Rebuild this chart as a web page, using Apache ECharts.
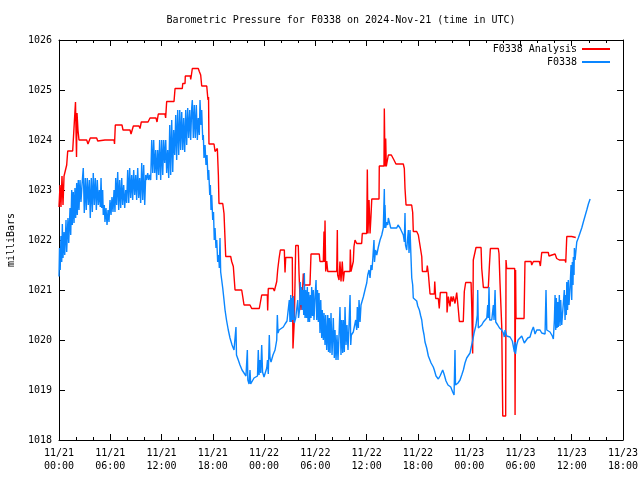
<!DOCTYPE html>
<html>
<head>
<meta charset="utf-8">
<script src="https://cdn.jsdelivr.net/npm/echarts@6/dist/echarts.min.js"></script>
<style>html,body{margin:0;padding:0;background:#fff}#c{width:640px;height:480px}</style>
</head>
<body>
<div id="c"></div>
<script>
const titleText = 'Barometric Pressure for F0338 on 2024-Nov-21 (time in UTC)';
const yName = 'milliBars';
const seriesNames = ['F0338 Analysis', 'F0338'];
const tickLabels = ['11/21\n00:00','11/21\n06:00','11/21\n12:00','11/21\n18:00','11/22\n00:00','11/22\n06:00','11/22\n12:00','11/22\n18:00','11/23\n00:00','11/23\n06:00','11/23\n12:00','11/23\n18:00'];

// hours since 2024-11-21 00:00 UTC, pressure in mbar
const analysisData = [[0,1022.66],[0.12,1023.1],[0.23,1022.66],[0.35,1023.28],[0.47,1022.7],[0.59,1023.28],[0.70,1023.3],[0.90,1023.5],[1.02,1023.78],[1.60,1023.78],[1.64,1023.74],[1.81,1023.74],[1.93,1024.76],[2.05,1023.66],[2.11,1024.54],[2.22,1024.2],[2.34,1024.0],[3.24,1024.0],[3.39,1023.92],[3.55,1023.92],[3.66,1024.04],[4.41,1024.04],[4.53,1023.98],[4.65,1024.0],[5.38,1024.0],[5.50,1023.97],[5.62,1024.0],[6.44,1024.0],[6.50,1023.92],[6.59,1024.3],[7.37,1024.3],[7.49,1024.2],[8.31,1024.2],[8.43,1024.12],[8.70,1024.28],[9.36,1024.28],[9.48,1024.23],[9.63,1024.36],[10.42,1024.36],[10.50,1024.32],[10.65,1024.44],[11.35,1024.44],[11.47,1024.36],[11.62,1024.52],[12.40,1024.52],[12.48,1024.44],[12.60,1024.77],[13.46,1024.77],[13.58,1025.03],[14.43,1025.03],[14.48,1025.13],[14.75,1025.13],[14.78,1025.28],[15.37,1025.28],[15.41,1025.21],[15.48,1025.28],[15.60,1025.43],[16.30,1025.43],[16.42,1025.37],[16.58,1025.3],[16.70,1025.08],[17.29,1025.08],[17.36,1024.94],[17.40,1024.86],[17.44,1024.8],[17.50,1024.86],[17.55,1023.92],[18.14,1023.92],[18.26,1023.77],[18.53,1023.83],[18.65,1023.3],[18.72,1022.73],[19.16,1022.73],[19.31,1022.53],[19.43,1022.53],[19.51,1021.67],[20.09,1021.67],[20.21,1021.57],[20.40,1021.47],[20.60,1021.0],[21.38,1021.0],[21.50,1020.87],[21.65,1020.7],[22.35,1020.7],[22.55,1020.63],[23.44,1020.63],[23.52,1020.6],[23.72,1020.9],[24.38,1020.9],[24.42,1020.59],[24.49,1021.03],[25.08,1021.03],[25.20,1020.98],[25.40,1020.96],[25.48,1021.17],[25.59,1021.4],[25.75,1021.63],[25.90,1021.8],[26.37,1021.8],[26.40,1021.6],[26.45,1021.35],[26.53,1021.65],[27.30,1021.65],[27.38,1019.83],[27.54,1020.4],[27.70,1021.89],[28.0,1021.89],[28.09,1021.33],[28.20,1020.87],[28.32,1020.6],[28.47,1020.87],[28.59,1021.33],[28.71,1021.1],[29.37,1021.1],[29.49,1021.72],[30.46,1021.72],[30.54,1021.57],[30.93,1021.57],[31.01,1022.17],[31.07,1021.56],[31.13,1022.39],[31.21,1021.37],[31.33,1021.58],[31.45,1021.37],[32.50,1021.37],[32.57,1022.2],[32.61,1021.3],[32.77,1021.2],[32.88,1021.57],[33.0,1021.17],[33.15,1021.57],[33.27,1021.17],[33.39,1021.37],[34.05,1021.37],[34.09,1021.81],[34.17,1021.37],[34.35,1021.37],[34.44,1021.57],[34.52,1021.87],[34.64,1022.0],[34.84,1021.93],[35.42,1021.93],[35.49,1022.13],[36.01,1022.13],[36.08,1023.41],[36.16,1022.13],[36.28,1022.8],[36.40,1022.13],[36.51,1022.48],[36.60,1022.82],[37.45,1022.82],[37.48,1023.48],[38.03,1023.48],[38.07,1024.63],[38.15,1023.47],[38.23,1024.03],[38.30,1023.47],[38.47,1023.47],[38.54,1023.7],[38.89,1023.7],[38.93,1023.73],[39.05,1023.67],[39.20,1023.6],[39.43,1023.52],[40.29,1023.52],[40.41,1023.43],[40.49,1023.03],[40.61,1022.7],[41.27,1022.7],[41.39,1022.55],[41.46,1022.17],[41.86,1022.17],[42.05,1022.1],[42.45,1021.67],[42.52,1021.37],[43.03,1021.37],[43.10,1021.49],[43.22,1021.33],[43.42,1020.92],[43.92,1020.92],[43.97,1021.17],[44.08,1020.83],[44.39,1020.83],[44.50,1020.63],[44.62,1020.95],[45.37,1020.95],[45.41,1020.55],[45.56,1020.87],[45.76,1020.67],[45.87,1020.87],[46.03,1020.77],[46.14,1020.87],[46.34,1020.73],[46.54,1020.95],[46.73,1020.61],[46.85,1020.37],[47.31,1020.37],[47.43,1020.97],[47.59,1021.15],[48.22,1021.15],[48.30,1020.67],[48.41,1019.73],[48.48,1021.6],[48.62,1021.56],[48.80,1021.85],[49.39,1021.85],[49.47,1021.43],[49.66,1021.05],[50.24,1021.05],[50.36,1021.47],[50.48,1021.83],[51.41,1021.83],[51.49,1021.73],[51.61,1021.13],[51.81,1020.27],[51.93,1018.48],[52.27,1018.48],[52.31,1021.6],[52.39,1021.43],[53.33,1021.43],[53.37,1018.5],[53.43,1021.4],[53.48,1020.43],[54.42,1020.43],[54.53,1021.57],[55.24,1021.57],[55.32,1021.5],[55.51,1021.57],[56.21,1021.57],[56.33,1021.48],[56.49,1021.75],[57.26,1021.75],[57.34,1021.68],[57.46,1021.72],[58.05,1021.72],[58.24,1021.63],[58.55,1021.6],[59.22,1021.6],[59.30,1021.55],[59.42,1022.07],[60.0,1022.07],[60.07,1022.05],[60.47,1022.05]];

const stationData = [[0,1021.27],[0.06,1021.84],[0.14,1021.4],[0.23,1022.08],[0.32,1021.56],[0.39,1022.32],[0.47,1021.64],[0.59,1022.16],[0.67,1021.7],[0.82,1022.4],[0.90,1021.76],[1.05,1022.44],[1.14,1021.94],[1.29,1022.64],[1.37,1022.1],[1.49,1023.0],[1.56,1022.3],[1.67,1022.96],[1.76,1022.34],[1.87,1023.04],[1.95,1022.44],[2.07,1023.14],[2.14,1022.5],[2.26,1023.2],[2.34,1022.6],[2.46,1023.2],[2.57,1022.76],[2.69,1023.1],[2.84,1023.44],[2.96,1022.54],[3.08,1023.24],[3.19,1022.6],[3.31,1023.24],[3.43,1022.7],[3.55,1023.2],[3.66,1022.44],[3.78,1023.24],[3.90,1022.56],[4.01,1023.34],[4.13,1022.7],[4.25,1023.24],[4.37,1022.6],[4.48,1023.2],[4.60,1022.7],[4.72,1023.0],[4.83,1022.66],[4.92,1023.24],[5.00,1022.64],[5.11,1023.0],[5.18,1022.5],[5.30,1022.7],[5.38,1022.36],[5.50,1022.64],[5.62,1022.3],[5.74,1022.6],[5.85,1022.36],[5.97,1022.8],[6.09,1022.5],[6.20,1022.86],[6.32,1022.56],[6.44,1023.0],[6.55,1022.56],[6.64,1023.24],[6.75,1022.7],[6.87,1023.36],[6.99,1022.6],[7.10,1023.2],[7.22,1022.64],[7.34,1023.24],[7.45,1022.7],[7.57,1023.1],[7.69,1022.64],[7.81,1023.0],[7.92,1022.74],[8.04,1023.4],[8.16,1022.74],[8.27,1023.44],[8.39,1022.84],[8.51,1023.3],[8.62,1022.8],[8.74,1023.4],[8.86,1022.9],[8.98,1023.3],[9.09,1022.8],[9.21,1023.44],[9.33,1022.84],[9.44,1023.24],[9.56,1022.74],[9.68,1023.54],[9.80,1022.8],[9.91,1023.5],[10.03,1022.7],[10.15,1023.3],[10.26,1023.2],[10.38,1023.34],[10.50,1023.2],[10.61,1023.3],[10.73,1023.2],[10.85,1024.0],[10.97,1023.34],[11.08,1024.0],[11.20,1023.34],[11.32,1023.8],[11.43,1023.2],[11.55,1023.8],[11.67,1023.3],[11.78,1024.0],[11.90,1023.2],[12.02,1024.0],[12.14,1023.3],[12.25,1024.0],[12.37,1023.54],[12.49,1024.0],[12.60,1023.34],[12.72,1023.8],[12.84,1023.24],[12.96,1024.3],[13.07,1023.3],[13.19,1024.4],[13.31,1023.36],[13.42,1024.2],[13.54,1023.7],[13.66,1024.5],[13.77,1023.6],[13.89,1024.6],[14.01,1023.7],[14.13,1024.6],[14.24,1023.8],[14.36,1024.56],[14.48,1023.8],[14.59,1024.44],[14.71,1023.76],[14.83,1024.6],[14.94,1023.9],[15.06,1024.64],[15.18,1024.04],[15.30,1024.6],[15.41,1024.0],[15.53,1024.64],[15.60,1024.8],[15.72,1024.04],[15.83,1024.7],[15.95,1024.04],[16.07,1024.7],[16.19,1024.0],[16.30,1024.44],[16.42,1024.1],[16.50,1024.8],[16.62,1024.3],[16.70,1024.6],[16.82,1024.0],[16.89,1024.1],[16.97,1023.64],[17.09,1023.9],[17.20,1023.5],[17.32,1023.7],[17.44,1023.2],[17.52,1023.4],[17.64,1022.9],[17.71,1023.1],[17.79,1022.6],[17.87,1022.9],[17.99,1022.4],[18.08,1022.56],[18.17,1022.0],[18.26,1022.24],[18.37,1021.84],[18.46,1022.0],[18.57,1021.56],[18.69,1021.7],[18.76,1021.44],[18.84,1022.04],[18.92,1021.36],[19.04,1021.2],[19.16,1021.04],[19.31,1020.8],[19.43,1020.6],[19.60,1020.4],[19.81,1020.2],[20.01,1020.04],[20.25,1019.9],[20.48,1019.8],[20.71,1020.26],[20.77,1019.7],[20.98,1019.6],[21.18,1019.5],[21.42,1019.4],[21.65,1019.36],[21.88,1019.28],[22.04,1019.8],[22.10,1019.2],[22.24,1019.12],[22.35,1019.4],[22.43,1019.12],[22.65,1019.16],[22.82,1019.24],[23.05,1019.26],[23.23,1019.28],[23.32,1019.8],[23.41,1019.3],[23.52,1019.6],[23.61,1019.34],[23.72,1019.9],[23.82,1019.36],[23.99,1019.26],[24.14,1019.3],[24.31,1019.44],[24.40,1019.6],[24.49,1019.32],[24.61,1020.1],[24.69,1019.64],[24.81,1019.56],[24.96,1019.52],[25.04,1019.7],[25.16,1019.66],[25.28,1019.8],[25.48,1020.0],[25.55,1020.5],[25.63,1020.14],[25.75,1020.2],[25.98,1020.24],[26.25,1020.26],[26.45,1020.32],[26.68,1020.38],[26.86,1020.34],[26.95,1020.8],[27.03,1020.36],[27.12,1020.9],[27.19,1020.36],[27.27,1020.84],[27.35,1020.4],[27.42,1020.88],[27.54,1020.34],[27.70,1020.44],[27.82,1020.4],[27.94,1020.8],[28.03,1020.44],[28.15,1020.6],[28.24,1021.16],[28.32,1020.7],[28.40,1021.06],[28.47,1020.6],[28.55,1021.0],[28.64,1020.5],[28.71,1021.34],[28.79,1020.44],[28.87,1021.0],[28.97,1020.44],[29.06,1021.06],[29.14,1020.36],[29.22,1020.96],[29.32,1020.36],[29.41,1020.9],[29.49,1020.44],[29.57,1021.06],[29.67,1020.48],[29.76,1021.0],[29.84,1020.4],[29.96,1020.86],[30.08,1021.2],[30.16,1020.4],[30.25,1021.0],[30.35,1020.36],[30.43,1020.94],[30.54,1020.14],[30.63,1020.8],[30.74,1020.04],[30.81,1020.6],[30.93,1020.0],[31.01,1020.54],[31.13,1019.9],[31.21,1020.5],[31.33,1019.8],[31.45,1020.5],[31.54,1019.76],[31.63,1020.44],[31.72,1019.74],[31.83,1020.54],[31.95,1019.7],[32.10,1020.44],[32.22,1019.64],[32.30,1020.2],[32.42,1019.6],[32.53,1020.1],[32.65,1019.6],[32.77,1020.1],[32.88,1020.66],[33.00,1019.7],[33.08,1020.4],[33.20,1019.74],[33.27,1020.4],[33.39,1019.76],[33.47,1020.66],[33.59,1019.9],[33.70,1020.3],[33.82,1019.8],[33.94,1020.3],[34.06,1020.9],[34.14,1019.9],[34.21,1020.1],[34.33,1020.06],[34.44,1020.16],[34.64,1020.14],[34.72,1020.4],[34.84,1020.2],[34.91,1020.66],[35.03,1020.24],[35.11,1020.8],[35.23,1020.36],[35.34,1020.7],[35.50,1020.7],[35.61,1020.86],[35.73,1020.9],[35.89,1021.06],[36.01,1021.14],[36.13,1021.3],[36.28,1021.4],[36.40,1021.24],[36.51,1021.5],[36.63,1021.4],[36.75,1021.7],[36.86,1022.0],[36.92,1021.56],[37.04,1021.8],[37.18,1021.7],[37.37,1021.86],[37.57,1022.0],[37.77,1022.1],[37.95,1022.24],[38.07,1023.02],[38.12,1022.24],[38.15,1022.7],[38.23,1022.24],[38.35,1022.36],[38.47,1022.3],[38.54,1022.44],[38.65,1022.4],[38.82,1022.24],[39.21,1022.24],[39.52,1022.24],[39.67,1022.3],[39.83,1022.32],[39.91,1022.24],[40.11,1022.2],[40.29,1022.1],[40.41,1021.96],[40.49,1022.54],[40.55,1021.9],[40.69,1021.8],[40.78,1022.0],[40.88,1022.2],[40.96,1021.74],[41.08,1022.2],[41.16,1021.8],[41.28,1021.24],[41.39,1021.1],[41.46,1020.84],[41.86,1020.78],[41.98,1020.68],[42.17,1020.6],[42.33,1020.48],[42.45,1020.4],[42.56,1020.24],[42.72,1020.1],[42.83,1019.96],[43.03,1019.84],[43.22,1019.68],[43.42,1019.64],[43.54,1019.54],[43.80,1019.46],[43.92,1019.4],[44.12,1019.28],[44.39,1019.22],[44.59,1019.28],[44.79,1019.28],[44.90,1019.4],[45.06,1019.32],[45.29,1019.18],[45.52,1019.1],[45.84,1019.06],[46.07,1018.96],[46.23,1018.9],[46.34,1019.8],[46.40,1019.1],[46.69,1019.14],[46.93,1019.2],[47.13,1019.3],[47.32,1019.4],[47.51,1019.54],[47.71,1019.64],[47.90,1019.68],[48.10,1019.74],[48.22,1019.84],[48.42,1020.0],[48.57,1020.14],[48.68,1020.16],[48.80,1020.3],[48.95,1020.5],[49.00,1021.0],[49.07,1020.24],[49.27,1020.2],[49.47,1020.3],[49.66,1020.36],[49.86,1020.4],[50.06,1020.44],[50.17,1020.7],[50.24,1020.44],[50.32,1021.06],[50.40,1020.4],[50.64,1020.4],[50.83,1020.7],[50.91,1020.4],[51.03,1021.0],[51.11,1020.36],[51.34,1020.3],[51.55,1020.24],[51.81,1020.2],[52.00,1020.14],[52.11,1020.06],[52.20,1020.2],[52.39,1020.08],[52.58,1020.04],[52.78,1020.06],[53.05,1019.98],[53.17,1019.94],[53.29,1019.76],[53.37,1019.96],[53.42,1019.72],[53.56,1019.9],[53.72,1020.0],[53.95,1020.04],[54.15,1020.08],[54.34,1020.04],[54.45,1019.94],[54.65,1019.96],[54.85,1020.04],[55.12,1020.06],[55.32,1020.18],[55.51,1020.26],[55.71,1020.12],[55.91,1020.2],[56.29,1020.2],[56.49,1020.14],[56.68,1020.12],[56.88,1020.12],[56.99,1021.0],[57.08,1020.2],[57.46,1020.16],[57.73,1020.08],[57.85,1020.02],[57.97,1020.4],[58.05,1020.9],[58.13,1020.2],[58.20,1020.84],[58.28,1020.24],[58.36,1020.76],[58.43,1020.26],[58.55,1020.9],[58.63,1020.28],[58.71,1020.8],[58.83,1020.3],[58.98,1020.3],[59.13,1021.0],[59.22,1020.4],[59.30,1020.9],[59.37,1020.5],[59.42,1021.16],[59.51,1020.6],[59.60,1021.2],[59.68,1020.7],[59.80,1021.04],[59.92,1021.5],[60.00,1020.8],[60.07,1021.56],[60.15,1021.1],[60.19,1021.66],[60.27,1021.3],[60.31,1021.84],[60.39,1021.6],[60.59,1021.96],[60.77,1022.04],[60.97,1022.14],[61.17,1022.24],[61.36,1022.36],[61.56,1022.48],[61.76,1022.6],[61.95,1022.72],[62.15,1022.82]];

const FONT = 'DejaVu Sans Mono';
const txt = {fontFamily: FONT, fontSize: 10, color: '#000'};
const chart = echarts.init(document.getElementById('c'), null, {renderer: 'canvas'});

function xAxisCfg(pos, showLabels) {
  return {
    type: 'value', position: pos, min: 0, max: 66, interval: 6,
    axisLine: {show: true, onZero: false, lineStyle: {color: '#000', width: 1}},
    axisTick: {show: true, inside: true, length: 6, lineStyle: {color: '#000'}},
    minorTick: {show: true, splitNumber: 3, length: 3, lineStyle: {color: '#000'}},
    splitLine: {show: false},
    axisLabel: {show: showLabels, margin: 7, lineHeight: 13, ...txt,
      formatter: v => tickLabels[Math.round(v / 6)]}
  };
}
function yAxisCfg(pos, showLabels) {
  const c = {
    type: 'value', position: pos, min: 1018, max: 1026, interval: 1,
    axisLine: {show: true, onZero: false, lineStyle: {color: '#000', width: 1}},
    axisTick: {show: true, inside: true, length: 6, lineStyle: {color: '#000'}},
    splitLine: {show: false},
    axisLabel: {show: showLabels, margin: 7, ...txt, formatter: v => String(v)}
  };
  if (showLabels) {
    c.name = yName; c.nameLocation = 'middle'; c.nameGap = 43; c.nameRotate = 90;
    c.nameTextStyle = {...txt};
  }
  return c;
}

const legendBase = {
  orient: 'vertical', align: 'right', icon: 'rect', itemWidth: 28, itemHeight: 2,
  right: 30, padding: 0, textStyle: {...txt}
};

chart.setOption({
  animation: false,
  backgroundColor: '#fff',
  graphic: [{type: 'text', x: 341, y: 20, style: {text: titleText, fill: '#000',
    font: '10px "DejaVu Sans Mono"', align: 'center', verticalAlign: 'middle',
    textAlign: 'center', textVerticalAlign: 'middle'}}],
  grid: {left: 59, right: 17, top: 40, bottom: 40, containLabel: false, outerBoundsMode: 'none'},
  legend: [
    {...legendBase, top: 44, data: [seriesNames[0]]},
    {...legendBase, top: 57, data: [seriesNames[1]]}
  ],
  xAxis: [xAxisCfg('bottom', true), xAxisCfg('top', false)],
  yAxis: [yAxisCfg('left', true), yAxisCfg('right', false)],
  series: [
    {name: seriesNames[0], type: 'line', data: analysisData, showSymbol: false, symbol: 'none',
     color: '#ff0000', lineStyle: {color: '#ff0000', width: 1.4}, itemStyle: {color: '#ff0000'}},
    {name: seriesNames[1], type: 'line', data: stationData, showSymbol: false, symbol: 'none',
     color: '#0a86ff', lineStyle: {color: '#0a86ff', width: 1.4}, itemStyle: {color: '#0a86ff'}}
  ]
});
</script>
</body>
</html>
